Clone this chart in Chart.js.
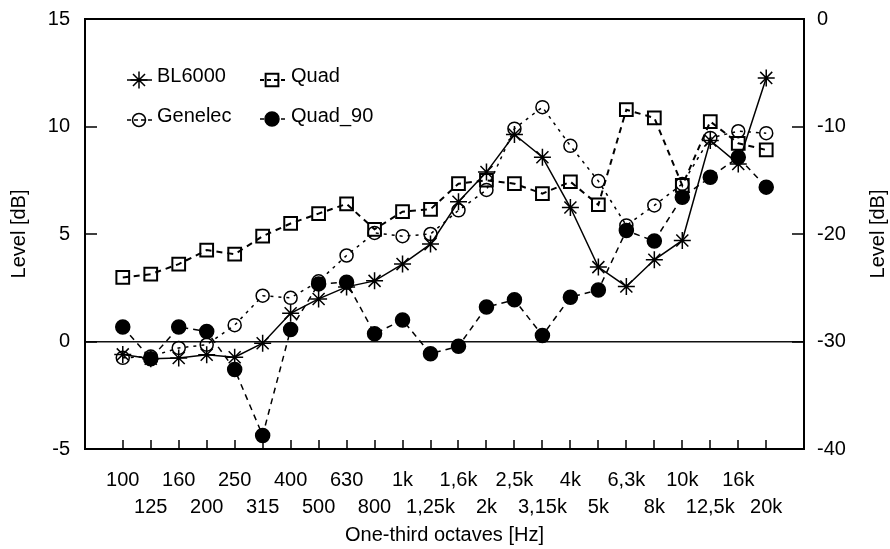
<!DOCTYPE html>
<html>
<head>
<meta charset="utf-8">
<script src="https://cdn.jsdelivr.net/npm/chart.js@4/dist/chart.umd.min.js"></script>
<style>
  html, body { margin: 0; padding: 0; background: #fff; }
  #wrap { width: 890px; height: 549px; }
</style>
</head>
<body>
<div id="wrap"><canvas id="levelChart" width="890" height="549"></canvas></div>
<script>
// one-third octave band centres
const bands = ["100", "125", "160", "200", "250", "315", "400", "500", "630", "800",
  "1k", "1,25k", "1,6k", "2k", "2,5k", "3,15k", "4k", "5k", "6,3k", "8k",
  "10k", "12,5k", "16k", "20k"];

// levels in dB (left axis)
const bl6000 = [-0.6, -0.8, -0.77, -0.62, -0.73, -0.08, 1.31, 1.98, 2.54, 2.82,
  3.6, 4.53, 6.5, 7.88, 9.63, 8.57, 6.23, 3.46, 2.56, 3.8,
  4.7, 9.35, 8.26, 12.26];
const quad = [2.98, 3.13, 3.6, 4.25, 4.06, 4.9, 5.49, 5.95, 6.4, 5.22,
  6.04, 6.15, 7.34, 7.5, 7.34, 6.88, 7.43, 6.36, 10.78, 10.4,
  7.26, 10.23, 9.22, 8.91];
const genelec = [-0.76, -0.7, -0.3, -0.15, 0.76, 2.13, 2.03, 2.8, 4.0, 5.05,
  4.9, 5.0, 6.1, 7.05, 9.9, 10.9, 9.1, 7.46, 5.4, 6.33,
  7.33, 9.47, 9.78, 9.69];
const quad90 = [0.67, -0.8, 0.67, 0.47, -1.3, -4.37, 0.56, 2.68, 2.76, 0.36,
  1.0, -0.57, -0.22, 1.6, 1.94, 0.28, 2.06, 2.4, 5.16, 4.67,
  6.71, 7.64, 8.57, 7.18];

const FONT = { family: "'Liberation Sans', Arial, sans-serif", size: 20 };

const toPoints = arr => arr.map((v, i) => ({ x: i, y: v }));

const series = [
  { label: "BL6000", data: bl6000, style: "star", radius: 8.5, width: 1.5, fill: "rgba(0,0,0,0)", dash: [] },
  { label: "Quad", data: quad, style: "rect", radius: 9, width: 2, fill: "rgba(0,0,0,0)", dash: [6, 5] },
  { label: "Genelec", data: genelec, style: "circle", radius: 6.5, width: 1.5, fill: "rgba(0,0,0,0)", dash: [3, 5] },
  { label: "Quad_90", data: quad90, style: "circle", radius: 7, width: 1.5, fill: "#000", dash: [6, 5] }
];

// legend spots (marker centre, text start)
const legendSpots = [
  { mx: 139, my: 80, tx: 157, ty: 76 },
  { mx: 272, my: 80, tx: 291, ty: 76 },
  { mx: 139, my: 120, tx: 157, ty: 116 },
  { mx: 272, my: 119, tx: 291, ty: 116 }
];

const framePlugin = {
  id: "framePlugin",
  beforeDatasetsDraw(chart) {
    const { ctx, chartArea: a, scales } = chart;
    ctx.save();
    ctx.strokeStyle = "#000";
    ctx.lineWidth = 1.5;
    ctx.beginPath();
    scales.x.ticks.forEach(t => {
      const px = Math.round(scales.x.getPixelForValue(t.value));
      ctx.moveTo(px, a.bottom);
      ctx.lineTo(px, a.bottom - 9);
    });
    scales.y.ticks.forEach(t => {
      const py = Math.round(scales.y.getPixelForValue(t.value));
      ctx.moveTo(a.left, py);
      ctx.lineTo(a.left + 12, py);
    });
    scales.y2.ticks.forEach(t => {
      const py = Math.round(scales.y2.getPixelForValue(t.value));
      ctx.moveTo(a.right, py);
      ctx.lineTo(a.right - 12, py);
    });
    ctx.stroke();
    ctx.lineWidth = 2;
    ctx.strokeRect(a.left, a.top, a.right - a.left, a.bottom - a.top);
    ctx.restore();
  },
  afterDraw(chart) {
    const { ctx, chartArea: a } = chart;
    ctx.save();
    ctx.font = `${FONT.size}px ${FONT.family}`;
    ctx.fillStyle = "#000";
    ctx.strokeStyle = "#000";

    series.forEach((s, i) => {
      const p = legendSpots[i];
      ctx.lineWidth = s.width;
      ctx.setLineDash(s.dash.length ? [4, 3] : []);
      ctx.beginPath();
      ctx.moveTo(p.mx - 12, p.my);
      ctx.lineTo(p.mx + 13, p.my);
      ctx.stroke();
      ctx.setLineDash([]);
      ctx.fillStyle = s.fill;
      Chart.helpers.drawPoint(ctx, { pointStyle: s.style, radius: s.radius, rotation: 0, borderWidth: s.width }, p.mx, p.my);
      ctx.fillStyle = "#000";
      ctx.textAlign = "left";
      ctx.textBaseline = "middle";
      ctx.fillText(s.label, p.tx, p.ty);
    });

    // right axis title, reading upwards like the left one
    ctx.translate(878, (a.top + a.bottom) / 2);
    ctx.rotate(-Math.PI / 2);
    ctx.textAlign = "center";
    ctx.textBaseline = "middle";
    ctx.fillText("Level [dB]", 0, 0);
    ctx.restore();
  }
};

const fitVertical = width => scale => {
  scale.width = width;
  scale.paddingTop = 0;
  scale.paddingBottom = 0;
};

new Chart(document.getElementById("levelChart"), {
  type: "line",
  data: {
    datasets: series.map(s => ({
      label: s.label,
      data: toPoints(s.data),
      yAxisID: "y",
      borderColor: "#000",
      borderWidth: s.width,
      borderDash: s.dash,
      backgroundColor: s.fill,
      pointStyle: s.style,
      pointRadius: s.radius,
      pointBorderWidth: s.width,
      pointBorderColor: "#000",
      pointBackgroundColor: s.fill,
      tension: 0,
      fill: false
    }))
  },
  options: {
    responsive: false,
    animation: false,
    layout: { padding: { top: 19, left: 0, right: 0, bottom: 0 } },
    plugins: { legend: { display: false }, tooltip: { enabled: false } },
    scales: {
      x: {
        type: "linear",
        min: -1.35,
        max: 24.35,
        afterBuildTicks: scale => { scale.ticks = bands.map((b, i) => ({ value: i })); },
        afterFit: scale => {
          scale.height = 100;
          scale.paddingLeft = 0;
          scale.paddingRight = 0;
        },
        grid: { display: false, drawTicks: false },
        border: { display: false },
        ticks: {
          autoSkip: false,
          maxRotation: 0,
          padding: 18,
          color: "#000",
          font: { ...FONT, lineHeight: 1.35 },
          callback: v => {
            const i = Math.round(v);
            return i % 2 === 0 ? [bands[i], ""] : ["", bands[i]];
          }
        },
        title: {
          display: true,
          text: "One-third octaves [Hz]",
          color: "#000",
          font: FONT,
          padding: { top: 0, bottom: 2 }
        }
      },
      y: {
        position: "left",
        min: -5,
        max: 15,
        afterFit: fitVertical(85),
        ticks: { stepSize: 5, padding: 15, color: "#000", font: FONT },
        grid: {
          drawTicks: false,
          lineWidth: 1.5,
          color: c => (c.tick && c.tick.value === 0 ? "#111" : "rgba(0,0,0,0)")
        },
        border: { display: false },
        title: {
          display: true,
          text: "Level [dB]",
          color: "#000",
          font: FONT,
          padding: { top: 7, bottom: 0 }
        }
      },
      y2: {
        position: "right",
        min: -40,
        max: 0,
        afterFit: fitVertical(86),
        ticks: { stepSize: 10, padding: 13, color: "#000", font: FONT },
        grid: { display: false, drawTicks: false },
        border: { display: false }
      }
    }
  },
  plugins: [framePlugin]
});
</script>
</body>
</html>
